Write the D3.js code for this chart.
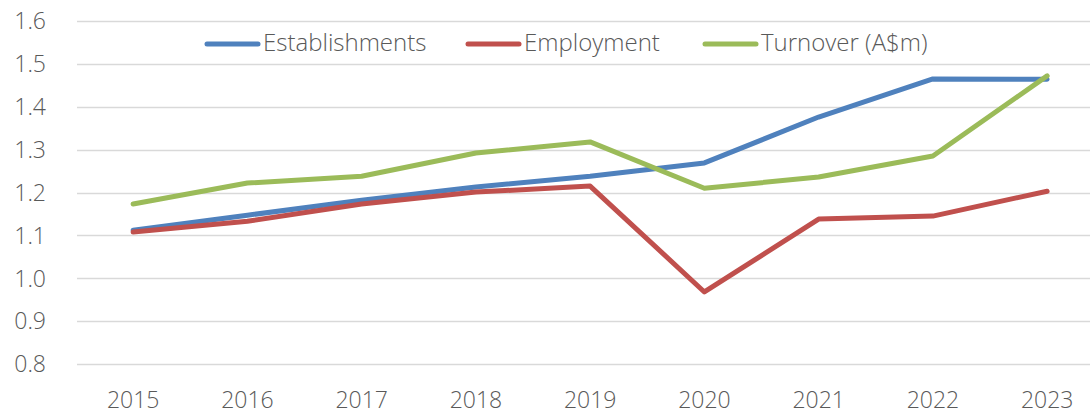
<!DOCTYPE html>
<html>
<head>
<meta charset="utf-8">
<script src="https://cdn.jsdelivr.net/npm/d3@7"></script>
<style>
  body { margin: 0; background: #fff; }
  text { font-family: "Open Sans", "Noto Sans", sans-serif; font-weight: 300; fill: #595959; }
</style>
</head>
<body>
<script>
(function(){

//chart data
var years = ["2015", "2016", "2017", "2018", "2019", "2020", "2021", "2022", "2023"];
var establishments = [1.112, 1.147, 1.182, 1.213, 1.238, 1.269, 1.376, 1.465, 1.464];
var employment = [1.108, 1.133, 1.173, 1.201, 1.215, 0.968, 1.138, 1.145, 1.203];
var turnover = [1.173, 1.222, 1.238, 1.292, 1.318, 1.210, 1.236, 1.285, 1.472];
var yTicks = [0.8, 0.9, 1.0, 1.1, 1.2, 1.3, 1.4, 1.5, 1.6];
var seriesNames = ["Establishments", "Employment", "Turnover (A$m)"];
var seriesColors = ["#4F81BD", "#C0504D", "#9BBB59"];

var width = 1090, height = 416;

var svg = d3.select("body").append("svg")
    .attr("width", width)
    .attr("height", height);

//scales
var x = d3.scaleBand()
    .domain(years)
    .range([76, 76 + 9 * 114.25]);

var y = d3.scaleLinear()
    .domain([0.8, 1.6])
    .range([364, 21]);

//gridlines
svg.append("g")
    .selectAll("line")
    .data(yTicks)
    .enter()
    .append("line")
    .attr("x1", 77)
    .attr("x2", width)
    .attr("y1", function(d){ return Math.round(y(d)) + 0.5; })
    .attr("y2", function(d){ return Math.round(y(d)) + 0.5; })
    .attr("stroke", "#d9d9d9")
    .attr("stroke-width", 1.5);

//y axis labels
var yAxis = svg.append("g")
    .attr("transform", "translate(49,0)")
    .call(d3.axisLeft(y).tickValues(yTicks).tickFormat(d3.format(".1f")).tickSize(0));
yAxis.select(".domain").remove();
yAxis.selectAll("text")
    .attr("font-size", 23)
    .attr("font-family", null)
    .attr("fill", null)
    .attr("dy", "0.34em");

//x axis labels
var xAxis = svg.append("g")
    .attr("transform", "translate(0,400)")
    .call(d3.axisBottom(x).tickSize(0));
xAxis.select(".domain").remove();
xAxis.selectAll("text")
    .attr("font-size", 23)
    .attr("font-family", null)
    .attr("fill", null)
    .attr("y", 0)
    .attr("dy", "0.34em");

//lines
var line = d3.line()
    .x(function(d, i){ return x(years[i]) + x.bandwidth() / 2; })
    .y(function(d){ return y(d); });

var allSeries = [establishments, employment, turnover];
allSeries.forEach(function(s, i){
    svg.append("path")
        .datum(s)
        .attr("d", line)
        .attr("fill", "none")
        .attr("stroke", seriesColors[i])
        .attr("stroke-width", 5)
        .attr("stroke-linejoin", "round")
        .attr("stroke-linecap", "round");
});

//legend
var legendX = [205, 466, 703];
var legend = svg.append("g");
seriesNames.forEach(function(name, i){
    legend.append("line")
        .attr("x1", legendX[i] + 2)
        .attr("x2", legendX[i] + 53)
        .attr("y1", 44)
        .attr("y2", 44)
        .attr("stroke", seriesColors[i])
        .attr("stroke-width", 5)
        .attr("stroke-linecap", "round");
    legend.append("text")
        .attr("x", legendX[i] + 58)
        .attr("y", 43)
        .attr("dy", "0.35em")
        .attr("font-size", 24)
        .text(name);
});

})();
</script>
</body>
</html>
